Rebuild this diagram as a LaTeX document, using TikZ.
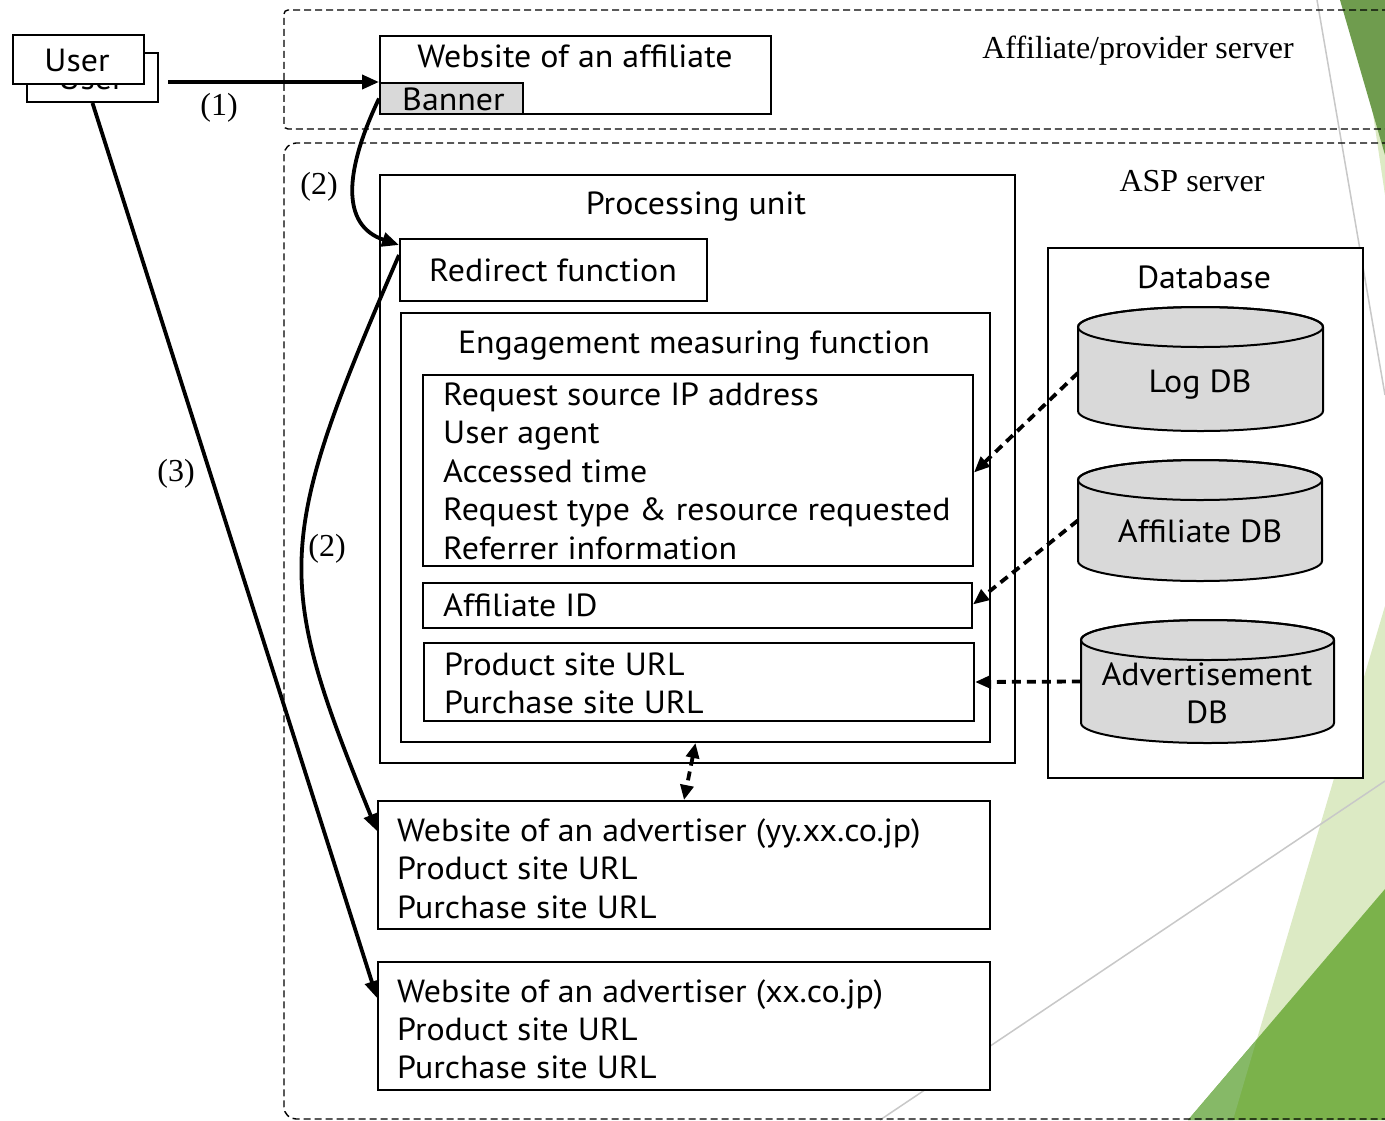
\documentclass[tikz,border=0pt]{standalone}
\usepackage{fontspec}
\setmainfont{Liberation Serif}
\setsansfont[FakeStretch=1.06]{PT Sans}
\usetikzlibrary{arrows.meta}

\definecolor{dbgray}{HTML}{D9D9D9}
\definecolor{leafdark}{HTML}{6F9C4E}
\definecolor{leafmid}{HTML}{7BB24B}
\definecolor{leafsoft}{HTML}{86B967}
\definecolor{leaflight}{HTML}{DCEAC4}
\definecolor{hairgray}{HTML}{C8C8C8}

% cylinder: #1 name of body node, #2 left, #3 right, #4 top, #5 bottom
\newcommand\drawdrum[5]{%
  \pgfmathsetmacro\drx{(#3-#2)/2}%
  \pgfmathsetmacro\dcx{(#2+#3)/2}%
  \pgfmathsetmacro\dtop{#4+20}%
  \pgfmathsetmacro\dbot{#5-20}%
  \pgfmathsetmacro\dmid{(#4+#5)/2}%
  \pgfmathsetmacro\dw{#3-#2}%
  \pgfmathsetmacro\dh{#5-#4-40}%
  \path[drum] (#2,\dtop) -- (#2,\dbot)
     arc[start angle=180, end angle=0, x radius=\drx, y radius=20]
     -- (#3,\dtop)
     arc[start angle=0, end angle=-180, x radius=\drx, y radius=20] -- cycle;
  \draw[line width=2] (\dcx,\dtop) ellipse[x radius=\drx, y radius=20];
  \node[inner sep=0, minimum width=\dw, minimum height=\dh] (#1) at (\dcx,\dmid) {};
}

\begin{document}
\begin{tikzpicture}[x=1pt, y=-1pt,
  box/.style={draw, line width=2, fill=white, inner sep=0, anchor=north west},
  zone/.style={draw, line width=1.4, dash pattern=on 7pt off 4pt},
  drum/.style={draw, line width=2, fill=dbgray},
  sans/.style={font=\sffamily\fontsize{32}{38.5}\selectfont, inner sep=0},
  serif/.style={font=\rmfamily\fontsize{32}{38}\selectfont, inner sep=0, anchor=base},
  flow/.style={line width=3.8, -{Triangle[length=17pt, width=14pt]}},
  feed/.style={line width=3.8, dash pattern=on 9pt off 6pt, -{Triangle[length=16pt, width=13pt]}},
  link/.style={line width=3.8, dash pattern=on 9pt off 6pt,
    {Triangle[length=15pt, width=13pt]}-{Triangle[length=15pt, width=13pt]}}]

\useasboundingbox (0,0) rectangle (1385,1120);
\clip (0,0) rectangle (1385,1120);
\fill[white] (0,0) rectangle (1385,1120);

% slide backdrop on the right edge
\fill[leaflight] (1365,60) -- (1385,60) -- (1385,195) -- cycle;
\fill[leafdark] (1340,0) -- (1385,0) -- (1385,155) -- cycle;
\fill[leaflight] (1385,606) -- (1385,1120) -- (1233,1120) -- cycle;
\fill[leafmid] (1385,889) -- (1385,1120) -- (1188,1120) -- cycle;
\fill[leafsoft] (1188,1120) -- (1256.7,1039.5) -- (1233,1120) -- cycle;
\draw[hairgray, line width=1.5] (1317,0) -- (1385,395);
\draw[hairgray, line width=1.5] (880,1120) -- (1385,781);

% server zones
\draw[zone, rounded corners=4] (1400,10) -- (284,10) -- (284,129) -- (1400,129);
\draw[zone, rounded corners=12] (1400,143) -- (284,143) -- (284,1119) -- (1400,1119);
\node[serif] (affsrv) at (1138,58) {Affiliate/provider server};
\node[serif] (aspsrv) at (1192,191) {ASP server};

% user
\node[box, minimum width=131, minimum height=49] (userback) at (26,52) {};
\node[sans, anchor=base] (userbacktext) at (91,89) {User};
\node[box, minimum width=131, minimum height=49] (user) at (12,34) {};
\node[sans, anchor=base] (usertext) at (77,71) {User};

% affiliate site
\node[box, minimum width=391, minimum height=78] (aff) at (379,35) {};
\node[sans, anchor=base] (afftext) at (575,67) {Website of an affiliate};
\node[box, fill=dbgray, minimum width=143, minimum height=31] (banner) at (379,82) {};
\node[sans, anchor=base west] (bannertext) at (402,110) {Banner};

% processing unit
\node[box, minimum width=635, minimum height=588] (proc) at (379,174) {};
\node[sans, anchor=base] (proctext) at (696,214) {Processing unit};
\node[box, minimum width=307, minimum height=62] (redir) at (399,238) {};
\node[sans, anchor=base west] (redirtext) at (429,281) {Redirect function};
\node[box, minimum width=589, minimum height=429] (eng) at (400,312) {};
\node[sans, anchor=base] (engtext) at (694,353) {Engagement measuring function};
\node[box, minimum width=550, minimum height=191] (info) at (422,374) {};
\node[sans, anchor=base west] (info1) at (443,405) {Request source IP address};
\node[sans, anchor=base west] (info2) at (443,443) {User agent};
\node[sans, anchor=base west] (info3) at (443,482) {Accessed time};
\node[sans, anchor=base west] (info4) at (443,520) {Request type \& resource requested};
\node[sans, anchor=base west] (info5) at (443,559) {Referrer information};
\node[box, minimum width=549, minimum height=45] (affid) at (422,582) {};
\node[sans, anchor=base west] (affidtext) at (443,616) {Affiliate ID};
\node[box, minimum width=550, minimum height=78] (urls) at (423,642) {};
\node[sans, anchor=base west] (urls1) at (444,675) {Product site URL};
\node[sans, anchor=base west] (urls2) at (444,713) {Purchase site URL};

% database
\node[box, minimum width=315, minimum height=530] (dbbox) at (1047,247) {};
\node[sans, anchor=base] (dbtext) at (1204,288) {Database};
\drawdrum{logdb}{1078}{1323}{307}{431}
\node[sans, anchor=base] (logdbtext) at (1200,392) {Log DB};
\drawdrum{affdb}{1078}{1322}{460}{581}
\node[sans, anchor=base] (affdbtext) at (1200,542) {Affiliate DB};
\drawdrum{advdb}{1081}{1334}{620}{743}
\node[sans, anchor=base] (advdbtext1) at (1207,685) {Advertisement};
\node[sans, anchor=base] (advdbtext2) at (1207,723) {DB};

% advertiser sites
\node[box, minimum width=612, minimum height=128] (adv1) at (377,800) {};
\node[sans, anchor=base west] (adv1a) at (397,841) {Website of an advertiser (yy.xx.co.jp)};
\node[sans, anchor=base west] (adv1b) at (397,879) {Product site URL};
\node[sans, anchor=base west] (adv1c) at (397,918) {Purchase site URL};
\node[box, minimum width=612, minimum height=128] (adv2) at (377,961) {};
\node[sans, anchor=base west] (adv2a) at (397,1002) {Website of an advertiser (xx.co.jp)};
\node[sans, anchor=base west] (adv2b) at (397,1040) {Product site URL};
\node[sans, anchor=base west] (adv2c) at (397,1078) {Purchase site URL};

% request flow
\coordinate (userout) at (168,82);
\draw[flow] (userout) -- (banner.north west);
\node[serif] (step1) at (219,115) {(1)};
\draw[flow] (banner.west) .. controls (345,170) and (340,225) .. ([yshift=-7]redir.north west);
\node[serif] (step2a) at (319,194) {(2)};
\draw[flow] ([yshift=-17]redir.north west) .. controls (274,543) and (274,578) .. ([yshift=34]adv1.west);
\node[serif] (step2b) at (327,556) {(2)};
\draw[flow] (userback.south) -- ([yshift=28]adv2.west);
\node[serif] (step3) at (176,481) {(3)};

% data feeds
\draw[feed] ([yshift=-4]logdb.west) -- ([yshift=-2]info.east);
\draw[feed] (affdb.west) -- ([yshift=1]affid.east);
\draw[feed] (advdb.west) -- (urls.east);
\draw[link] (eng.south) -- (adv1.north);
\end{tikzpicture}
\end{document}
